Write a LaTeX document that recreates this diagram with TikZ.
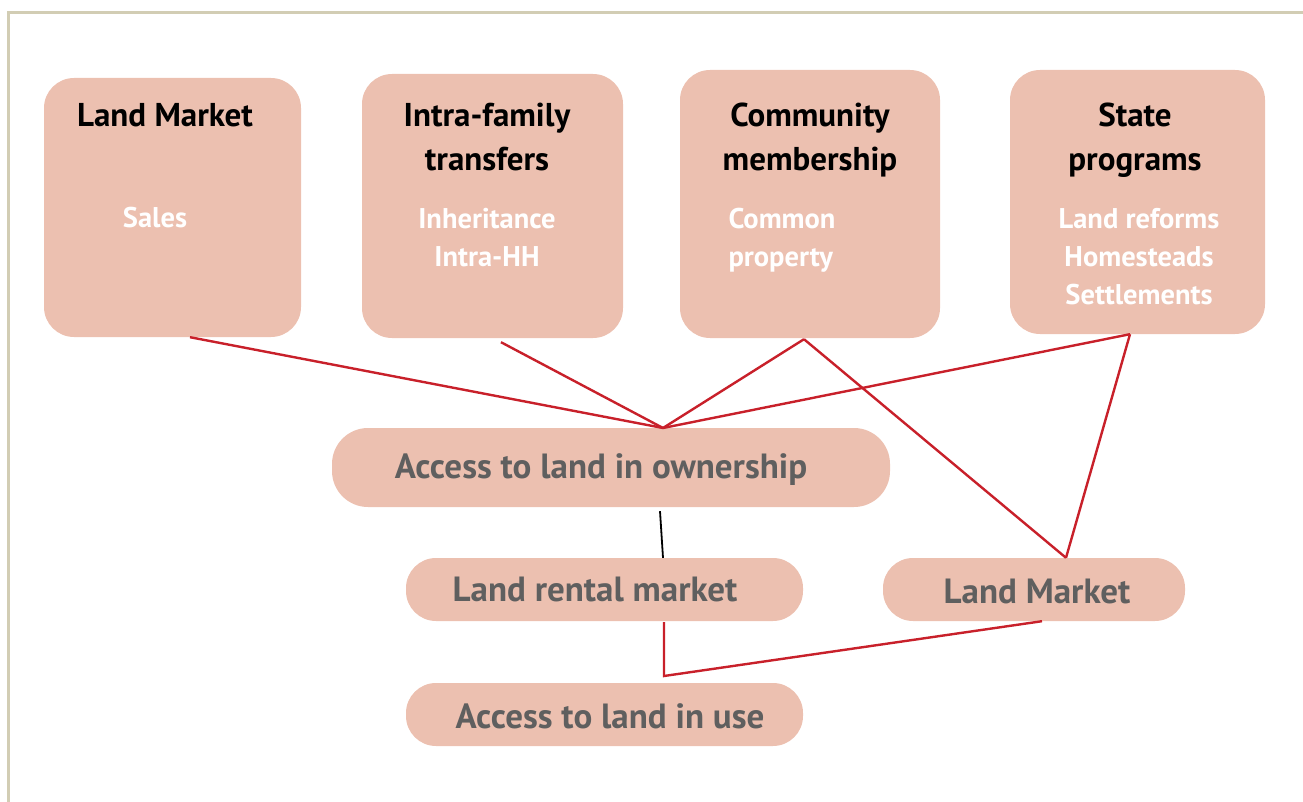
\documentclass[tikz,border=0pt]{standalone}
\usepackage{fontspec}
\setmainfont{PT Sans}
\usetikzlibrary{calc}
\definecolor{boxfill}{HTML}{ECC0B0}
\definecolor{linered}{HTML}{C8202A}
\definecolor{txtgray}{HTML}{5F5F5F}
\definecolor{frame}{HTML}{D2CDB4}
\tikzset{
  bigbox/.style={draw=none, fill=boxfill, rounded corners=30pt, inner sep=0pt},
  smallbox/.style={draw=none, fill=boxfill, rounded corners=30pt, inner sep=0pt},
  ttl/.style={anchor=base, align=center, text=black, font=\fontsize{33}{44}\selectfont\bfseries},
  sub/.style={anchor=base, align=center, text=white, font=\fontsize{28.5}{38}\selectfont\bfseries},
  low/.style={anchor=base, text=txtgray, font=\fontsize{35}{40}\selectfont\bfseries},
  redline/.style={draw=linered, line width=2.4pt},
  blkline/.style={draw=black, line width=1.8pt}
}
\begin{document}
\begin{tikzpicture}[x=1pt,y=-1pt]
\useasboundingbox (0,0) rectangle (1303,802);
\draw[frame, line width=2.5pt] (8.5,802) -- (8.5,12.5) -- (1303,12.5);
% top boxes
\node[bigbox, minimum width=257pt, minimum height=259pt] (b1) at (172.5,207.5) {};
\node[bigbox, minimum width=261pt, minimum height=264pt] (b2) at (492.5,206) {};
\node[bigbox, minimum width=260pt, minimum height=268pt] (b3) at (810,204) {};
\node[bigbox, minimum width=255pt, minimum height=264pt] (b4) at (1137.5,202) {};
% lower boxes
\node[smallbox, rounded corners=36pt, minimum width=558pt, minimum height=79pt] (own) at (611,467.5) {};
\node[smallbox, minimum width=397pt, minimum height=63pt] (rent) at (604.5,589.5) {};
\node[smallbox, minimum width=302pt, minimum height=63pt] (mkt) at (1034,589.5) {};
\node[smallbox, minimum width=397pt, minimum height=63pt] (use) at (604.5,714.5) {};
% texts (anchor base = baseline of last line)
\node[ttl] (t1) at (165,127) {Land Market};
\node[ttl] (t2) at (487,171) {Intra-family\\transfers};
\node[ttl] (t3) at (810,171) {Community\\membership};
\node[ttl] (t4) at (1135,171) {State\\programs};
\node[sub] (s1) at (155,228) {Sales};
\node[sub] (s2) at (487,266) {Inheritance\\Intra-HH};
\node[sub, align=left] (s3) at (782,266) {Common\\property};
\node[sub] (s4) at (1139,304) {Land reforms\\Homesteads\\Settlements};
\node[low] (l1) at (601,478) {Access to land in ownership};
\node[low] (l2) at (595,601) {Land rental market};
\node[low] (l3) at (1037,603) {Land Market};
\node[low] (l4) at (610,728) {Access to land in use};
% connectors
\coordinate (j1) at (663,428);
\coordinate (j2) at (664,676);
\draw[redline] ($(b1.south)+(17.5,0)$) -- (j1);
\draw[redline] ($(b2.south)+(8.5,4)$) -- (j1);
\draw[redline] ($(b3.south)+(-6,1)$) -- (j1);
\draw[redline] ($(b4.south)+(-7.5,0)$) -- (j1);
\draw[redline] ($(b3.south)+(-6,1)$) -- ($(mkt.north)+(32,0)$);
\draw[redline] ($(b4.south)+(-7.5,0)$) -- ($(mkt.north)+(32,0)$);
\draw[blkline] ($(own.south)+(49,4)$) -- ($(rent.north)+(58.5,0)$);
\draw[redline] ($(rent.south)+(59.5,1)$) -- (j2) -- ($(mkt.south)+(8,0)$);
\end{tikzpicture}
\end{document}
